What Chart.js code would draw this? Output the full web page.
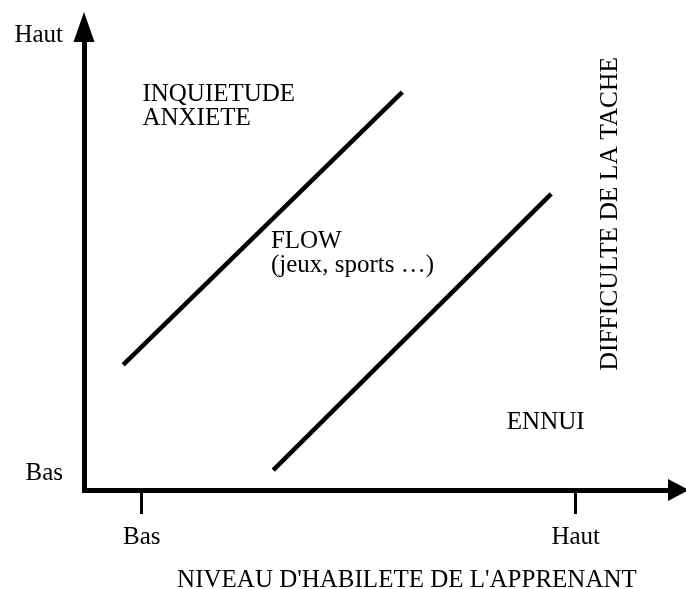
<!DOCTYPE html>
<html>
<head>
<meta charset="utf-8">
<script src="https://cdn.jsdelivr.net/npm/chart.js@4.4.0/dist/chart.umd.min.js"></script>
<style>
  html, body { margin: 0; padding: 0; background: #fff; }
</style>
</head>
<body>
<canvas id="flowChart" width="686" height="589"></canvas>
<script>
// Habilete (x) et difficulte (y), echelle de 0 a 10
const xTickValues = [0.99, 8.42]
const xTickLabels = ['Bas', 'Haut']
const yTickValues = [0.37, 10.11]
const yTickLabels = ['Bas', 'Haut']

// Les deux frontieres du canal de flow
const limiteAnxieteX = [0.67, 5.45]
const limiteAnxieteY = [2.78, 8.84]
const limiteEnnuiX = [3.24, 8.0]
const limiteEnnuiY = [0.44, 6.58]

const zonesTextes = [['INQUIETUDE', 'ANXIETE'], ['FLOW', '(jeux, sports …)'], ['ENNUI']]
const titreX = "NIVEAU D'HABILETE DE L'APPRENANT"
const titreY = 'DIFFICULTE DE LA TACHE'

const police = '"Liberation Serif", "Times New Roman", serif'
const taille = 25

// ancrage des textes (en unites des axes)
const zonesAncrage = [
  { x: 1.0, y: 8.64 },
  { x: 3.2, y: 5.38 },
  { x: 7.24, y: 1.36 }
]

function toPoints (xs, ys) {
  return xs.map((x, i) => ({ x, y: ys[i] }))
}

const textesEtFleches = {
  id: 'textesEtFleches',
  afterDraw (chart) {
    const { ctx, chartArea } = chart
    const sx = chart.scales.x
    const sy = chart.scales.y
    ctx.save()
    ctx.fillStyle = '#000'

    // fleche verticale
    const ax = sx.getPixelForValue(0)
    ctx.beginPath()
    ctx.moveTo(ax, 12)
    ctx.lineTo(ax + 10.5, chartArea.top + 2)
    ctx.lineTo(ax - 10.5, chartArea.top + 2)
    ctx.closePath()
    ctx.fill()

    // fleche horizontale
    const ay = sy.getPixelForValue(0)
    ctx.beginPath()
    ctx.moveTo(chartArea.right + 21, ay)
    ctx.lineTo(chartArea.right, ay - 11)
    ctx.lineTo(chartArea.right, ay + 11)
    ctx.closePath()
    ctx.fill()

    ctx.font = taille + 'px ' + police
    ctx.textBaseline = 'alphabetic'
    ctx.textAlign = 'left'
    zonesTextes.forEach((lignes, i) => {
      const px = sx.getPixelForValue(zonesAncrage[i].x)
      const py = sy.getPixelForValue(zonesAncrage[i].y)
      lignes.forEach((t, j) => ctx.fillText(t, px, py + j * 24))
    })

    ctx.textAlign = 'center'
    ctx.fillText(titreX, sx.getPixelForValue(5.53), chart.height - 2)

    ctx.translate(sx.getPixelForValue(9.13), sy.getPixelForValue(6.14))
    ctx.rotate(-Math.PI / 2)
    ctx.font = '25.5px ' + police
    ctx.fillText(titreY, 0, 0)
    ctx.restore()
  }
}

const config = {
  type: 'scatter',
  data: {
    datasets: [
      {
        data: toPoints(limiteAnxieteX, limiteAnxieteY),
        showLine: true,
        borderColor: '#000',
        borderWidth: 4.5,
        pointRadius: 0
      },
      {
        data: toPoints(limiteEnnuiX, limiteEnnuiY),
        showLine: true,
        borderColor: '#000',
        borderWidth: 4.5,
        pointRadius: 0
      }
    ]
  },
  options: {
    responsive: false,
    devicePixelRatio: 1,
    animation: false,
    layout: { padding: { top: 40, right: 18, left: 0, bottom: 0 } },
    plugins: { legend: { display: false }, tooltip: { enabled: false } },
    scales: {
      x: {
        type: 'linear',
        min: 0,
        max: 10,
        afterFit: (scale) => { scale.height = 99 },
        afterBuildTicks: (scale) => { scale.ticks = xTickValues.map((v) => ({ value: v })) },
        border: { display: true, color: '#000', width: 5 },
        grid: { drawOnChartArea: false, drawTicks: true, tickLength: 24, lineWidth: 3, color: '#000' },
        ticks: {
          padding: 11,
          color: '#000',
          font: { family: police, size: taille, lineHeight: 1 },
          callback: (v, i) => xTickLabels[i]
        }
      },
      y: {
        type: 'linear',
        min: 0,
        max: 10,
        afterFit: (scale) => { scale.width = 84 },
        afterBuildTicks: (scale) => { scale.ticks = yTickValues.map((v) => ({ value: v })) },
        border: { display: true, color: '#000', width: 5 },
        grid: { drawOnChartArea: false, drawTicks: false },
        ticks: {
          padding: 21,
          color: '#000',
          font: { family: police, size: taille, lineHeight: 1 },
          callback: (v, i) => yTickLabels[i]
        }
      }
    }
  },
  plugins: [textesEtFleches]
}

new Chart(document.getElementById('flowChart'), config)
</script>
</body>
</html>
